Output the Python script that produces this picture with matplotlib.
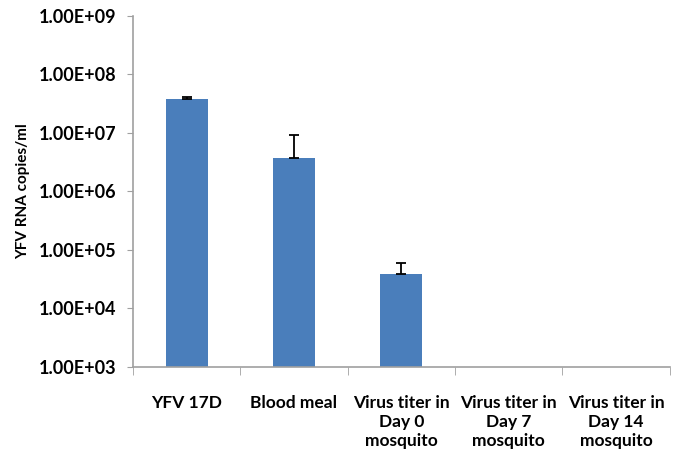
import numpy as np
import matplotlib.pyplot as plt

categories = ['YFV 17D', 'Blood meal', 'Virus titer in\nDay 0\nmosquito',
              'Virus titer in\nDay 7\nmosquito', 'Virus titer in\nDay 14\nmosquito']
values = [3.8e7, 3.8e6, 3.9e4, np.nan, np.nan]
errors = [0.35e7, 5.5e6, 2.2e4, 0, 0]
tick_vals = [1e3, 1e4, 1e5, 1e6, 1e7, 1e8, 1e9]
tick_labels = ['1.00E+03', '1.00E+04', '1.00E+05', '1.00E+06', '1.00E+07', '1.00E+08', '1.00E+09']

plt.rcParams['font.family'] = ['Lato', 'DejaVu Sans']
plt.rcParams['font.weight'] = 'bold'
plt.rcParams['axes.labelweight'] = 'bold'

fig = plt.figure(figsize=(6.78, 4.57), dpi=100)
ax = fig.add_axes([0.196, 0.197, 0.792, 0.768])

x = np.arange(len(categories))
lower = np.zeros(len(errors))
ax.bar(x, values, width=0.39, color='#4a7ebb', zorder=2)
ax.errorbar(x[:3], values[:3], yerr=[lower[:3], errors[:3]], fmt='none',
            ecolor='black', elinewidth=1.3, capsize=3.5, capthick=1.3, zorder=3)

ax.set_yscale('log')
ax.set_ylim(1e3, 1e9)
ax.set_xlim(-0.5, len(categories) - 0.5)
ax.set_yticks(tick_vals)
ax.set_yticklabels(tick_labels)
ax.yaxis.set_minor_locator(plt.NullLocator())
ax.set_xticks(x)
ax.set_xticklabels(categories, linespacing=1.25)
ax.tick_params(axis='x', length=0, pad=20, labelsize=12.5)
ax.tick_params(axis='y', length=4, color='#a0a0a0', pad=8, labelsize=13)
# category boundary ticks
ax.set_xticks(np.arange(len(categories) + 1) - 0.5, minor=True)
ax.tick_params(axis='x', which='minor', length=6, color='#a0a0a0', direction='out')

for s in ['top', 'right']:
    ax.spines[s].set_visible(False)
for s in ['left', 'bottom']:
    ax.spines[s].set_color('#a0a0a0')
    ax.spines[s].set_linewidth(1.2)

ax.set_ylabel('YFV RNA copies/ml', fontsize=11, labelpad=6)

fig.savefig('out.png', dpi=100)
